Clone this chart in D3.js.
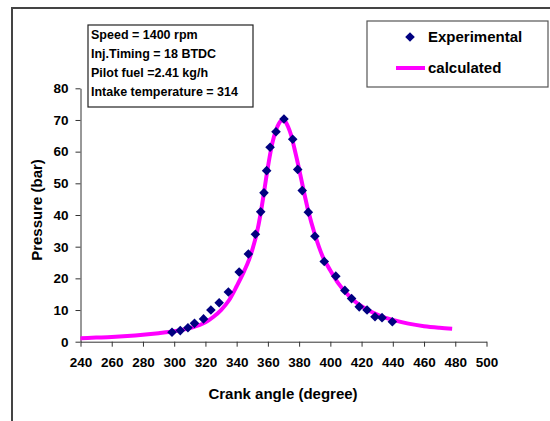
<!DOCTYPE html>
<html>
<head>
<meta charset="utf-8">
<script src="https://cdn.jsdelivr.net/npm/d3@7"></script>
<style>
  body { margin: 0; background: #fff; }
  svg { font-family: "Liberation Sans", Arial, sans-serif; font-weight: bold; }
</style>
</head>
<body>
<svg id="chart" width="550" height="421"></svg>
<script>
// experimental points (crank angle, pressure)
const expAngle = [298.6, 303.9, 308.8, 313.0, 318.8, 323.5, 328.8, 334.7, 341.6, 347.5, 352.0, 355.4, 357.5, 359.2, 361.4, 365.2, 370.3,
                  375.9, 379.1, 382.0, 385.9, 390.1, 396.1, 403.5, 409.3, 413.6, 418.5, 423.5, 428.6, 433.1, 439.7];
const expPressure = [3.0, 3.5, 4.4, 5.8, 7.2, 10.0, 12.3, 15.7, 22.0, 27.7, 33.9, 41.0, 47.0, 54.0, 61.4, 66.3, 70.3,
                     63.9, 54.4, 47.7, 40.9, 33.3, 25.3, 20.7, 16.2, 13.6, 11.0, 10.0, 7.9, 7.6, 6.3];

// calculated curve
const calcAngle = [240, 250, 260, 270, 280, 290, 300, 310, 320, 325, 330, 335, 340, 345, 348, 350, 353, 355, 357, 359, 361, 363, 365, 367, 369,
                   371, 373, 375, 377, 380, 383, 386, 390, 395, 400, 405, 410, 415, 420, 425, 430, 435, 440, 450, 460, 470, 478];
const calcPressure = [1.1, 1.3, 1.5, 1.8, 2.2, 2.7, 3.3, 4.3, 6.1, 7.8, 10, 13, 17.5, 22.5, 26, 29, 34.5, 39.5, 45.5, 52, 58, 63, 66.5, 68.8, 69.8,
                      69.5, 67.8, 65, 61, 54.5, 47.5, 41, 34, 27, 22.5, 18.5, 15.5, 13, 11.2, 9.8, 8.6, 7.6, 6.9, 5.7, 4.9, 4.4, 4.1];

const xTicks = [240, 260, 280, 300, 320, 340, 360, 380, 400, 420, 440, 460, 480, 500];
const yTicks = [0, 10, 20, 30, 40, 50, 60, 70, 80];

const infoLines = ["Speed = 1400 rpm", "Inj.Timing = 18 BTDC", "Pilot fuel =2.41 kg/h", "Intake temperature = 314"];
const legendNames = ["Experimental", "calculated"];

const buildVis = (svg_name) => {
    let chart = d3.select(svg_name);
    const axisColor = "#333";

    // outer frame (only top and left edges visible)
    chart.append("path")
        .attr("d", "M12,422V8H551")
        .attr("fill", "none")
        .attr("stroke", "#444")
        .attr("stroke-width", 2);

    let x = d3.scaleLinear().domain([240, 500]).range([80.5, 486.5]);
    let y = d3.scaleLinear().domain([0, 80]).range([341.7, 88.3]);

    let x_axis = d3.axisBottom(x).tickValues(xTicks).tickSize(5).tickPadding(11).tickSizeOuter(0);
    let y_axis = d3.axisLeft(y).tickValues(yTicks).tickSize(5).tickPadding(7).tickSizeOuter(0);

    let gx = chart.append("g").attr("transform", "translate(0," + y(0) + ")").call(x_axis);
    let gy = chart.append("g").attr("transform", "translate(" + x(240) + ",0)").call(y_axis);
    [gx, gy].forEach(g => {
        g.select(".domain").attr("stroke", axisColor);
        g.selectAll(".tick line").attr("stroke", axisColor);
        g.selectAll(".tick text")
            .attr("fill", "#000")
            .style("font-size", "13.5px")
            .style("font-weight", "bold")
            .style("font-family", "'Liberation Sans', Arial, sans-serif");
    });

    chart.append("text")
        .attr("x", 283)
        .attr("y", 399)
        .style("text-anchor", "middle")
        .style("font-size", "15px")
        .text("Crank angle (degree)");

    chart.append("text")
        .attr("transform", "rotate(-90)")
        .attr("x", -210)
        .attr("y", 42)
        .style("text-anchor", "middle")
        .style("font-size", "15px")
        .text("Pressure (bar)");

    // calculated line
    let calcData = calcAngle.map((a, i) => ({angle: a, p: calcPressure[i]}));
    let line = d3.line()
        .x(d => x(d.angle))
        .y(d => y(d.p))
        .curve(d3.curveMonotoneX);
    chart.append("path")
        .datum(calcData)
        .attr("d", line)
        .attr("fill", "none")
        .attr("stroke", "#ff00ff")
        .attr("stroke-width", 4)
        .attr("stroke-linejoin", "round");

    // experimental diamonds
    let expData = expAngle.map((a, i) => ({angle: a, p: expPressure[i]}));
    const diamond = "M0,-4.8L4.8,0L0,4.8L-4.8,0Z";
    chart.selectAll(".pt")
        .data(expData)
        .enter().append("path")
        .attr("class", "pt")
        .attr("d", diamond)
        .attr("transform", d => "translate(" + x(d.angle) + "," + y(d.p) + ")")
        .attr("fill", "#000080");

    // info box
    chart.append("rect")
        .attr("x", 88).attr("y", 25)
        .attr("width", 165).attr("height", 82)
        .attr("fill", "#fff")
        .attr("stroke", "#222")
        .attr("stroke-width", 1.2);
    chart.selectAll(".info")
        .data(infoLines)
        .enter().append("text")
        .attr("class", "info")
        .attr("x", 91)
        .attr("y", (d, i) => 38.5 + i * 19.3)
        .style("font-size", "12.5px")
        .text(d => d);

    // legend
    chart.append("rect")
        .attr("x", 367).attr("y", 21)
        .attr("width", 181).attr("height", 66)
        .attr("fill", "#fff")
        .attr("stroke", "#555")
        .attr("stroke-width", 1.2);
    chart.append("path")
        .attr("d", diamond)
        .attr("transform", "translate(410,37)")
        .attr("fill", "#000080");
    chart.append("line")
        .attr("x1", 396).attr("x2", 425)
        .attr("y1", 68).attr("y2", 68)
        .attr("stroke", "#ff00ff")
        .attr("stroke-width", 4);
    chart.selectAll(".leg")
        .data(legendNames)
        .enter().append("text")
        .attr("class", "leg")
        .attr("x", 428)
        .attr("y", (d, i) => 42 + i * 31)
        .style("font-size", "15px")
        .text(d => d);
}

buildVis("#chart");
</script>
</body>
</html>
